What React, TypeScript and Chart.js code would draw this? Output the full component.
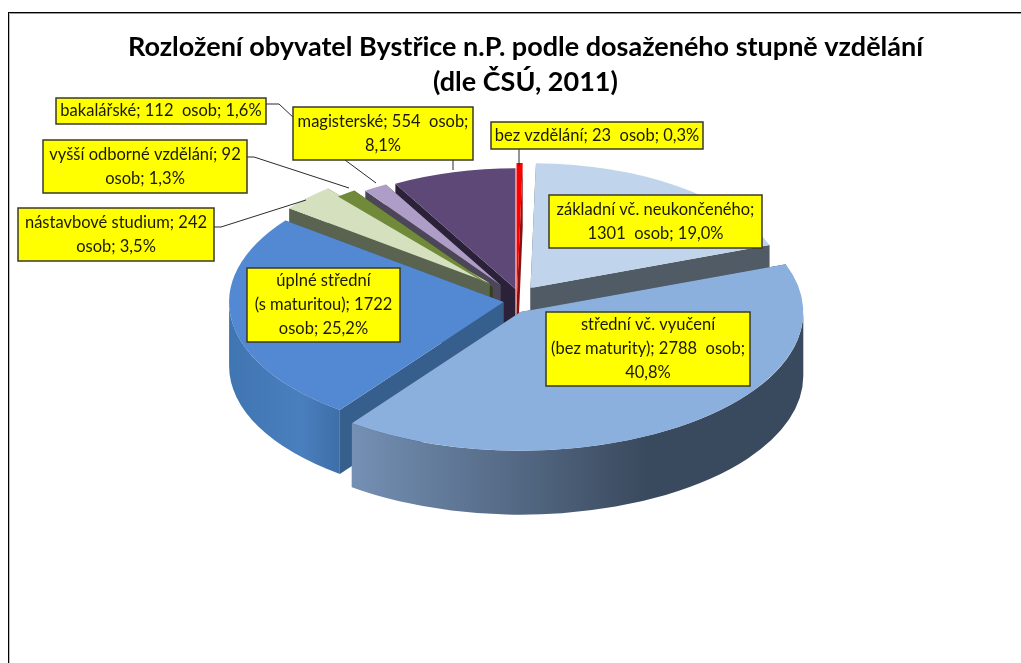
import React, { useEffect, useRef } from "react";
import { Chart, registerables } from "chart.js";

Chart.register(...registerables);

const titleLines = [
  "Rozložení obyvatel Bystřice n.P. podle dosaženého stupně vzdělání",
  "(dle ČSÚ, 2011)",
];
const categories = [
  "bez vzdělání",
  "základní vč. neukončeného",
  "střední vč. vyučení (bez maturity)",
  "úplné střední (s maturitou)",
  "nástavbové studium",
  "vyšší odborné vzdělání",
  "bakalářské",
  "magisterské",
];
const persons = [23, 1301, 2788, 1722, 242, 92, 112, 554];
const labelLines = [
  ["bez vzdělání; 23  osob; 0,3%"],
  ["základní vč. neukončeného;", "1301  osob; 19,0%"],
  ["střední vč. vyučení", "(bez maturity); 2788  osob;", "40,8%"],
  ["úplné střední", "(s maturitou); 1722", "osob; 25,2%"],
  ["nástavbové studium; 242", "osob; 3,5%"],
  ["vyšší odborné vzdělání; 92", "osob; 1,3%"],
  ["bakalářské; 112  osob; 1,6%"],
  ["magisterské; 554  osob;", "8,1%"],
];

const topColors = ["#ff0000", "#c0d5eb", "#8cb0de", "#5389d2", "#d4e0be", "#708a3a", "#ae9ec7", "#5e4878"];
const sideColors = ["#8a1010", "#505b66", "#3a4a5e", "#365f8e", "#5a6250", "#343f1c", "#4d4658", "#2b2138"];
const wallStops: (string[] | null)[] = [null, null, ["#7490b4", "#3a4a5e", "#3a4a5e"], ["#3f75b1", "#4a7fbe", "#3d6ea8"], null, null, null, null];

// Presentation of the exploded 3D pie
const SQUASH = 0.49;
const DEPTH = 64;
const BASE_RADIUS = 280;
const explodeX = [-9, 5, -5, -22, -36, -33, -25, -10];
const explodeY = [8, -11, 13, 3, -16, -12, -14, -10];
const radiusScale = [1.05, 0.91, 1.01, 0.98, 0.9, 0.86, 0.84, 0.88];

const boxes = [
  { x: 491, y: 122, w: 212, h: 27 },
  { x: 549, y: 195, w: 213, h: 53 },
  { x: 546, y: 312, w: 204, h: 74 },
  { x: 247, y: 268, w: 153, h: 74 },
  { x: 18, y: 208, w: 196, h: 53 },
  { x: 43, y: 140, w: 204, h: 53 },
  { x: 56, y: 98, w: 210, h: 26 },
  { x: 293, y: 107, w: 180, h: 53 },
];
const leaders = [
  [[519, 149], [519, 166]],
  [[214, 227], [221, 227], [306, 200]],
  [[247, 157], [254, 157], [349, 188]],
  [[266, 104], [279, 104], [295, 119]],
  [[345, 160], [376, 183]],
  [[453, 160], [453, 170]],
];

const pie3d = {
  id: "pie3d",
  afterDatasetsUpdate(chart: any) {
    const arcs = chart.getDatasetMeta(0).data;
    arcs.forEach((el: any, i: number) => {
      el.x += explodeX[i];
      el.y += explodeY[i] / SQUASH;
      el.outerRadius = BASE_RADIUS * radiusScale[i];
    });
  },
  beforeDatasetsDraw(chart: any) {
    const ctx = chart.ctx;
    const { top, bottom } = chart.chartArea;
    const cy = (top + bottom) / 2;
    const arcs = chart.getDatasetMeta(0).data;
    const order = arcs
      .map((el: any, i: number) => ({ el, i, s: Math.sin((el.startAngle + el.endAngle) / 2) }))
      .sort((a: any, b: any) => a.s - b.s);
    for (const { el, i } of order) {
      const ax = el.x;
      const ay = cy + (el.y - cy) * SQUASH;
      const r = el.outerRadius;
      ctx.fillStyle = sideColors[i];
      for (const ang of [el.startAngle, el.endAngle]) {
        const ex = ax + Math.cos(ang) * r;
        const ey = ay + Math.sin(ang) * r * SQUASH;
        ctx.beginPath();
        ctx.moveTo(ax, ay);
        ctx.lineTo(ex, ey);
        ctx.lineTo(ex, ey + DEPTH);
        ctx.lineTo(ax, ay + DEPTH);
        ctx.closePath();
        ctx.fill();
      }
      const a0 = Math.max(el.startAngle, 0);
      const a1 = Math.min(el.endAngle, Math.PI);
      if (a1 > a0) {
        const stops = wallStops[i];
        if (stops) {
          const x0 = ax + Math.cos(a1) * r;
          const x1 = ax + Math.cos(a0) * r;
          const g = ctx.createLinearGradient(x0, 0, x1, 0);
          g.addColorStop(0, stops[0]);
          g.addColorStop(0.65, stops[1]);
          g.addColorStop(1, stops[2]);
          ctx.fillStyle = g;
        }
        ctx.beginPath();
        ctx.ellipse(ax, ay, r, r * SQUASH, 0, a0, a1);
        ctx.ellipse(ax, ay + DEPTH, r, r * SQUASH, 0, a1, a0, true);
        ctx.closePath();
        ctx.fill();
      }
    }
    ctx.save();
    ctx.translate(0, cy);
    ctx.scale(1, SQUASH);
    ctx.translate(0, -cy);
  },
  afterDatasetsDraw(chart: any) {
    const ctx = chart.ctx;
    ctx.restore();
    ctx.save();
    ctx.strokeStyle = "#2a2a2a";
    ctx.lineWidth = 1;
    for (const pts of leaders) {
      ctx.beginPath();
      pts.forEach((p, n) => (n ? ctx.lineTo(p[0], p[1]) : ctx.moveTo(p[0], p[1])));
      ctx.stroke();
    }
    ctx.font = "16.5px Lato";
    ctx.textAlign = "center";
    ctx.textBaseline = "middle";
    labelLines.forEach((lines, i) => {
      const b = boxes[i];
      ctx.fillStyle = "#ffff00";
      ctx.fillRect(b.x, b.y, b.w, b.h);
      ctx.strokeStyle = "#3a3a2a";
      ctx.lineWidth = 1.5;
      ctx.strokeRect(b.x, b.y, b.w, b.h);
      ctx.fillStyle = "#1a1a00";
      const lh = 24;
      const y0 = b.y + b.h / 2 - ((lines.length - 1) * lh) / 2;
      lines.forEach((t, n) => ctx.fillText(t, b.x + b.w / 2, y0 + n * lh));
    });
    ctx.restore();
  },
};

export default function App() {
  const ref = useRef<HTMLCanvasElement>(null);
  useEffect(() => {
    const chart = new Chart(ref.current as HTMLCanvasElement, {
      type: "pie",
      data: {
        labels: categories,
        datasets: [
          {
            data: persons,
            backgroundColor: topColors,
            borderWidth: 0,
            radius: BASE_RADIUS,
            clip: false,
          } as any,
        ],
      },
      options: {
        responsive: false,
        animation: false,
        events: [],
        layout: { padding: { left: 30, top: 30, right: 0, bottom: 170 } },
        plugins: {
          legend: { display: false },
          tooltip: { enabled: false },
          title: {
            display: true,
            text: titleLines,
            color: "#000000",
            font: { family: "Lato", size: 27, weight: "bold", lineHeight: 1.3 },
            padding: { top: 0, bottom: 5 },
          },
        },
      },
      plugins: [pie3d],
    } as any);
    return () => chart.destroy();
  }, []);
  return (
    <div style={{ position: "fixed", left: 0, top: 0, width: 1021, height: 663, background: "#fff", overflow: "hidden" }}>
      <div style={{ position: "absolute", left: 8, top: 12, width: 1013, height: 1, background: "#000" }} />
      <div style={{ position: "absolute", left: 9, top: 13, width: 1012, height: 1, background: "#999" }} />
      <div style={{ position: "absolute", left: 8, top: 12, width: 1, height: 651, background: "#000" }} />
      <div style={{ position: "absolute", left: 9, top: 13, width: 1, height: 650, background: "#bbb" }} />
      <canvas ref={ref} width={1021} height={663} style={{ position: "absolute", left: 0, top: 0, display: "block" }} />
    </div>
  );
}
